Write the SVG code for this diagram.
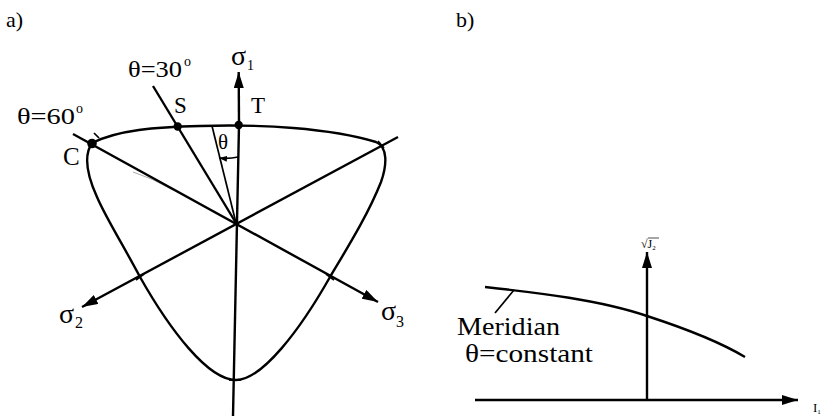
<svg xmlns="http://www.w3.org/2000/svg" width="825" height="416" viewBox="0 0 825 416">
<style>
  .ln { stroke: #000; stroke-width: 2.4; fill: none; }
  .thin { stroke: #000; stroke-width: 1.7; fill: none; }
  .faint { stroke: #aaa; stroke-width: 1; fill: none; }
  .txt { font-family: "Liberation Serif", "Times New Roman", serif; fill: #000; }
  .dot { fill: #000; }
</style>
<defs>
  <marker id="arr" viewBox="0 0 16 10" refX="16" refY="5" markerWidth="16" markerHeight="10" markerUnits="userSpaceOnUse" orient="auto">
    <path d="M0,0 L16,5 L0,10 Z" fill="#000"/>
  </marker>
  <marker id="arrs" viewBox="0 0 8 6" refX="8" refY="3" markerWidth="8" markerHeight="6" markerUnits="userSpaceOnUse" orient="auto">
    <path d="M0,0 L8,3 L0,6 Z" fill="#000"/>
  </marker>
</defs>

<text class="txt" x="6" y="27" font-size="22">a)</text>
<text class="txt" x="456" y="27" font-size="22">b)</text>

<!-- Panel a -->
<g id="yield-curve">
  <path class="ln" d="M92,143 C118,130 155,127 200,126 C260,124 330,128 376,142 C388,147 387,165 381,182 C368,215 346,250 330,277 C300,330 262,380 236,380 C208,380 170,330 140,277 C122,243 106,218 97,197 C87,175 83,156 92,143 Z"/>
  <path class="faint" d="M133,172 Q152,178 173,190"/>
</g>

<g id="connectors">
  <line class="ln" x1="239" y1="125" x2="233" y2="416"/>
  <line class="ln" x1="239" y1="125" x2="238.7" y2="72" marker-end="url(#arr)"/>
  <line class="ln" x1="73" y1="134" x2="378" y2="302" marker-end="url(#arr)"/>
  <line class="ln" x1="398" y1="137" x2="82" y2="307" marker-end="url(#arr)"/>
  <line class="ln" x1="153" y1="86" x2="236" y2="223"/>
  <line class="thin" x1="212" y1="126" x2="236" y2="223"/>
  <path class="thin" d="M238,157 Q229,159 219,158" marker-end="url(#arrs)"/>
  <line class="thin" x1="94" y1="133" x2="99" y2="138"/>
  <line class="thin" x1="378" y1="141" x2="384" y2="148"/>
  <line class="thin" x1="136" y1="280" x2="144" y2="274"/>
  <line class="thin" x1="326" y1="274" x2="334" y2="280"/>
  <line class="thin" x1="229" y1="380" x2="241" y2="380"/>
</g>

<g id="node-S"><circle class="dot" cx="177.7" cy="126.5" r="4.2"/><text class="txt" x="174" y="113" font-size="23">S</text></g>
<g id="node-T"><circle class="dot" cx="238.7" cy="125" r="4.2"/><text class="txt" x="251" y="113" font-size="23">T</text></g>
<g id="node-C"><circle class="dot" cx="92" cy="143.5" r="4.8"/><text class="txt" x="63" y="165" font-size="25">C</text></g>

<g id="label-theta60"><text class="txt" x="17" y="124" font-size="24" textLength="58" lengthAdjust="spacingAndGlyphs">θ=60</text><text class="txt" x="76" y="113" font-size="14">o</text></g>
<g id="label-theta30"><text class="txt" x="128" y="77" font-size="24" textLength="54" lengthAdjust="spacingAndGlyphs">θ=30</text><text class="txt" x="184" y="66" font-size="14">o</text></g>
<g id="label-theta"><text class="txt" x="218" y="149" font-size="21">θ</text></g>

<g id="label-s1"><text class="txt" x="231" y="65" font-size="28">σ</text><text class="txt" x="247" y="70" font-size="14">1</text></g>
<g id="label-s2"><text class="txt" x="59" y="323" font-size="28">σ</text><text class="txt" x="75" y="328" font-size="16">2</text></g>
<g id="label-s3"><text class="txt" x="381" y="320" font-size="28">σ</text><text class="txt" x="396" y="327" font-size="16">3</text></g>

<!-- Panel b -->
<g id="axes-b">
  <line class="ln" x1="475" y1="400" x2="798" y2="400" marker-end="url(#arr)"/>
  <line class="ln" x1="647" y1="400" x2="647" y2="252" marker-end="url(#arr)"/>
</g>
<g id="label-J2">
  <text class="txt" x="641" y="248" font-size="12">√J<tspan font-size="7" dy="2">2</tspan></text>
  <line x1="648" y1="238" x2="659" y2="238" stroke="#000" stroke-width="0.7"/>
</g>
<g id="label-I1"><text class="txt" x="813" y="412" font-size="13">I<tspan font-size="7" dy="2">1</tspan></text></g>

<g id="meridian">
  <path class="ln" d="M485,287 C540,293 600,300 647,316 C690,330 720,342 745,357"/>
  <line class="thin" x1="514" y1="290" x2="495" y2="313"/>
  <text class="txt" x="457" y="335" font-size="25" textLength="103" lengthAdjust="spacingAndGlyphs">Meridian</text>
  <text class="txt" x="465" y="362" font-size="25" textLength="128" lengthAdjust="spacingAndGlyphs">θ=constant</text>
</g>
</svg>
